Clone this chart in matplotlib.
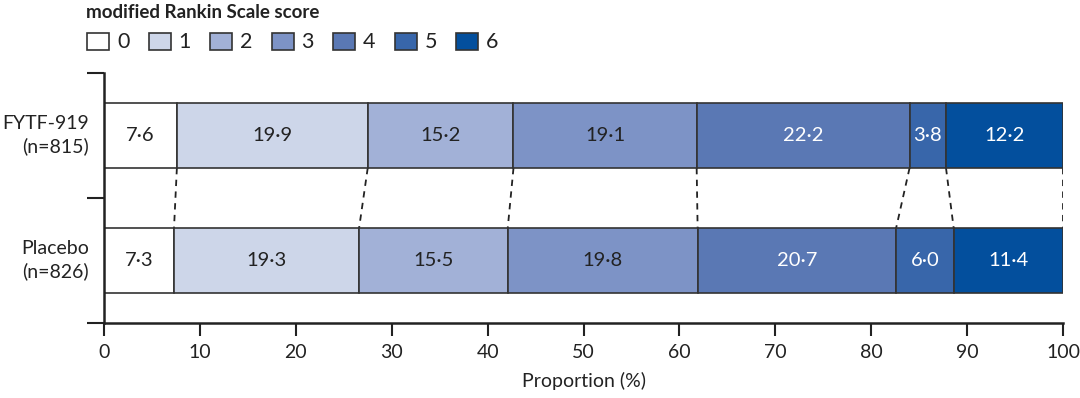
import matplotlib
matplotlib.use("Agg")
import matplotlib.pyplot as plt
from matplotlib.patches import Rectangle
import numpy as np

plt.rcParams['font.family'] = ['Lato', 'DejaVu Sans']

groups = ["FYTF-919\n(n=815)", "Placebo\n(n=826)"]
scores = ["0", "1", "2", "3", "4", "5", "6"]
fytf = [7.6, 19.9, 15.2, 19.1, 22.2, 3.8, 12.2]
placebo = [7.3, 19.3, 15.5, 19.8, 20.7, 6.0, 11.4]
labels_fytf = ["7·6", "19·9", "15·2", "19·1", "22·2", "3·8", "12·2"]
labels_placebo = ["7·3", "19·3", "15·5", "19·8", "20·7", "6·0", "11·4"]
colors = ["#ffffff", "#cdd6e9", "#a2b1d7", "#7d93c6", "#5a78b4", "#3866aa", "#034f9d"]
text_colors = ["#222222", "#222222", "#222222", "#222222", "white", "white", "white"]

fig = plt.figure(figsize=(10.8, 3.98), dpi=100)
ax = fig.add_axes([104/1080, 1-323/398, (1063-104)/1080, 250/398])

ypos = [1.5, 0.5]
h = 0.52
data = [fytf, placebo]
labs = [labels_fytf, labels_placebo]
cums = []
for y, vals, lb in zip(ypos, data, labs):
    left = 0.0
    cum = []
    for i, v in enumerate(vals):
        ax.barh(y, v, left=left, height=h, color=colors[i], edgecolor="#333333", linewidth=1.2, zorder=2)
        ax.text(left + v/2, y, lb[i], ha="center", va="center", fontsize=14.5, color=text_colors[i], zorder=3)
        left += v
        cum.append(left)
    cums.append(cum)

for a, b in zip(cums[0], cums[1]):
    ax.plot([a, b], [1.5 - h/2, 0.5 + h/2], color="#222222", linestyle=(0, (3.5, 3)), linewidth=1.3, zorder=1)

ax.set_xlim(0, 100)
ax.set_ylim(0, 2)
ax.set_xticks(np.arange(0, 101, 10))
ax.set_yticks([0, 1, 2])
ax.set_yticklabels([])
ax.tick_params(axis='x', length=9, width=1.5, labelsize=14, pad=6, colors="#222222")
ax.tick_params(axis='y', length=12, width=1.5, colors="#222222")
for s in ["top", "right"]:
    ax.spines[s].set_visible(False)
for s in ["left", "bottom"]:
    ax.spines[s].set_linewidth(1.8)
    ax.spines[s].set_color("#222222")
ax.set_xlabel("Proportion (%)", fontsize=14, labelpad=8, color="#222222")

for y, g in zip(ypos, groups):
    ax.text(-1.6, y, g, ha="right", va="center", fontsize=14, color="#222222", transform=ax.transData, linespacing=1.35)

# legend
fig.text(86/1080, 1-12/398, "modified Rankin Scale score", fontsize=13.5, fontweight="bold", ha="left", va="center", color="#222222")
for i, s in enumerate(scores):
    x0 = 87 + i*61.5
    fig.patches.append(Rectangle((x0/1080, 1-50/398), 22/1080, 17/398, transform=fig.transFigure,
                                 facecolor=colors[i], edgecolor="#333333", linewidth=1.2))
    fig.text((x0+30)/1080, 1-42/398, s, fontsize=15.5, ha="left", va="center", color="#222222")

fig.savefig("out.png", dpi=100)
